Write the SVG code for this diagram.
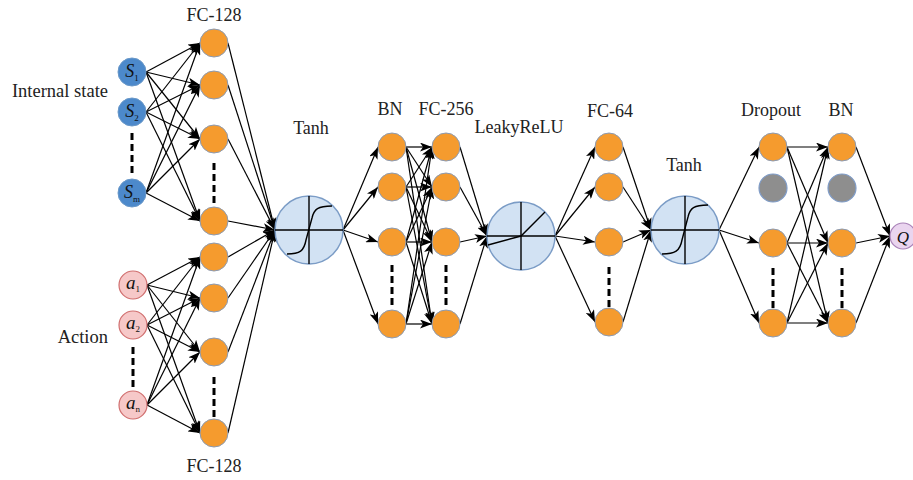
<svg xmlns="http://www.w3.org/2000/svg" width="913" height="480" viewBox="0 0 913 480">
<defs>
<marker id="ah" markerUnits="userSpaceOnUse" markerWidth="12" markerHeight="9" refX="12" refY="4.5" orient="auto">
<path d="M0,0 L12,4.5 L0,9 L3,4.5 z" fill="#000"/>
</marker>
<style>
.c line{stroke:#000;stroke-width:1.2;marker-end:url(#ah)}
.o{fill:#f59b2e;stroke:#8a9bb5;stroke-width:1}
.g{fill:#8e8e8e;stroke:#7f9cc8;stroke-width:1.2}
.b{fill:#4c89cb;stroke:#6a98c8;stroke-width:1}
.p{fill:#f6c8c8;stroke:#d06f6f;stroke-width:1.2}
.act{fill:#d2e2f3;stroke:#7b9cc6;stroke-width:1.5}
.ax{stroke:#000;stroke-width:1.4;fill:none}
.q{fill:#ead5ef;stroke:#a982b8;stroke-width:1.2}
.d{stroke:#000;stroke-width:3;stroke-dasharray:7 4}
text{font-family:"Liberation Serif","Times New Roman",serif;fill:#222}
.lb{font-size:18px;text-anchor:middle}
.nt{font-size:17px;text-anchor:middle;fill:#111}
</style>
</defs>
<rect width="913" height="480" fill="#fff"/>

<g id="connectors" class="c">
<line x1="146" y1="72" x2="200" y2="43"/><line x1="146" y1="72" x2="200" y2="85"/><line x1="146" y1="72" x2="200" y2="139"/><line x1="146" y1="72" x2="200" y2="221"/>
<line x1="146" y1="112" x2="200" y2="43"/><line x1="146" y1="112" x2="200" y2="85"/><line x1="146" y1="112" x2="200" y2="139"/><line x1="146" y1="112" x2="200" y2="221"/>
<line x1="146" y1="193" x2="200" y2="43"/><line x1="146" y1="193" x2="200" y2="85"/><line x1="146" y1="193" x2="200" y2="139"/><line x1="146" y1="193" x2="200" y2="221"/>
<line x1="147" y1="285" x2="200" y2="257"/><line x1="147" y1="285" x2="200" y2="298"/><line x1="147" y1="285" x2="200" y2="352"/><line x1="147" y1="285" x2="200" y2="433"/>
<line x1="147" y1="325" x2="200" y2="257"/><line x1="147" y1="325" x2="200" y2="298"/><line x1="147" y1="325" x2="200" y2="352"/><line x1="147" y1="325" x2="200" y2="433"/>
<line x1="147" y1="405" x2="200" y2="257"/><line x1="147" y1="405" x2="200" y2="298"/><line x1="147" y1="405" x2="200" y2="352"/><line x1="147" y1="405" x2="200" y2="433"/>
<line x1="228" y1="43" x2="275" y2="230"/><line x1="228" y1="85" x2="275" y2="230"/><line x1="228" y1="139" x2="275" y2="230"/><line x1="228" y1="221" x2="275" y2="230"/>
<line x1="228" y1="257" x2="275" y2="230"/><line x1="228" y1="298" x2="275" y2="230"/><line x1="228" y1="352" x2="275" y2="230"/><line x1="228" y1="433" x2="275" y2="230"/>
<line x1="343" y1="230" x2="378" y2="147"/><line x1="343" y1="230" x2="378" y2="187"/><line x1="343" y1="230" x2="378" y2="242"/><line x1="343" y1="230" x2="378" y2="324"/>
<line x1="406" y1="147" x2="432" y2="147"/><line x1="406" y1="147" x2="432" y2="187"/><line x1="406" y1="147" x2="432" y2="242"/><line x1="406" y1="147" x2="432" y2="324"/>
<line x1="406" y1="187" x2="432" y2="147"/><line x1="406" y1="187" x2="432" y2="187"/><line x1="406" y1="187" x2="432" y2="242"/><line x1="406" y1="187" x2="432" y2="324"/>
<line x1="406" y1="242" x2="432" y2="147"/><line x1="406" y1="242" x2="432" y2="187"/><line x1="406" y1="242" x2="432" y2="242"/><line x1="406" y1="242" x2="432" y2="324"/>
<line x1="406" y1="324" x2="432" y2="147"/><line x1="406" y1="324" x2="432" y2="187"/><line x1="406" y1="324" x2="432" y2="242"/><line x1="406" y1="324" x2="432" y2="324"/>
<line x1="460" y1="147" x2="487" y2="236"/><line x1="460" y1="187" x2="487" y2="236"/><line x1="460" y1="242" x2="487" y2="236"/><line x1="460" y1="324" x2="487" y2="236"/>
<line x1="555" y1="236" x2="595" y2="147"/><line x1="555" y1="236" x2="595" y2="187"/><line x1="555" y1="236" x2="595" y2="242"/><line x1="555" y1="236" x2="595" y2="322"/>
<line x1="623" y1="147" x2="651" y2="230"/><line x1="623" y1="187" x2="651" y2="230"/><line x1="623" y1="242" x2="651" y2="230"/><line x1="623" y1="322" x2="651" y2="230"/>
<line x1="719" y1="230" x2="759" y2="147"/><line x1="719" y1="230" x2="759" y2="243"/><line x1="719" y1="230" x2="759" y2="323"/>
<line x1="787" y1="147" x2="828" y2="147"/><line x1="787" y1="147" x2="828" y2="243"/><line x1="787" y1="147" x2="828" y2="323"/>
<line x1="787" y1="243" x2="828" y2="147"/><line x1="787" y1="243" x2="828" y2="243"/><line x1="787" y1="243" x2="828" y2="323"/>
<line x1="787" y1="323" x2="828" y2="147"/><line x1="787" y1="323" x2="828" y2="243"/><line x1="787" y1="323" x2="828" y2="323"/>
<line x1="856" y1="147" x2="890" y2="236"/><line x1="856" y1="243" x2="890" y2="236"/><line x1="856" y1="323" x2="890" y2="236"/>
</g>

<g id="dots">
<line class="d" x1="132" y1="133" x2="132" y2="173"/>
<line class="d" x1="214" y1="163" x2="214" y2="203"/>
<line class="d" x1="133" y1="347" x2="133" y2="387"/>
<line class="d" x1="214" y1="377" x2="214" y2="417"/>
<line class="d" x1="392" y1="265" x2="392" y2="307"/>
<line class="d" x1="446" y1="265" x2="446" y2="307"/>
<line class="d" x1="609" y1="267" x2="609" y2="307"/>
<line class="d" x1="773" y1="268" x2="773" y2="310"/>
<line class="d" x1="842" y1="268" x2="842" y2="310"/>
</g>

<g id="s1"><circle class="b" cx="132" cy="72" r="14"/><text class="nt" x="132" y="77"><tspan font-style="italic" font-size="18">S</tspan><tspan font-size="9" dy="3.5">1</tspan></text></g>
<g id="s2"><circle class="b" cx="132" cy="112" r="14"/><text class="nt" x="132" y="117"><tspan font-style="italic" font-size="18">S</tspan><tspan font-size="9" dy="3.5">2</tspan></text></g>
<g id="sm"><circle class="b" cx="132" cy="193" r="14"/><text class="nt" x="132" y="198"><tspan font-style="italic" font-size="18">S</tspan><tspan font-size="9" dy="3.5">m</tspan></text></g>
<g id="a1"><circle class="p" cx="133" cy="285" r="14"/><text class="nt" x="133" y="288.5"><tspan font-style="italic" font-size="19">a</tspan><tspan font-size="9" dy="3.5">1</tspan></text></g>
<g id="a2"><circle class="p" cx="133" cy="325" r="14"/><text class="nt" x="133" y="328.5"><tspan font-style="italic" font-size="19">a</tspan><tspan font-size="9" dy="3.5">2</tspan></text></g>
<g id="an"><circle class="p" cx="133" cy="405" r="14"/><text class="nt" x="133" y="408.5"><tspan font-style="italic" font-size="19">a</tspan><tspan font-size="9" dy="3.5">n</tspan></text></g>

<g id="fc128a-1"><circle class="o" cx="214" cy="43" r="14"/></g>
<g id="fc128a-2"><circle class="o" cx="214" cy="85" r="14"/></g>
<g id="fc128a-3"><circle class="o" cx="214" cy="139" r="14"/></g>
<g id="fc128a-4"><circle class="o" cx="214" cy="221" r="14"/></g>
<g id="fc128b-1"><circle class="o" cx="214" cy="257" r="14"/></g>
<g id="fc128b-2"><circle class="o" cx="214" cy="298" r="14"/></g>
<g id="fc128b-3"><circle class="o" cx="214" cy="352" r="14"/></g>
<g id="fc128b-4"><circle class="o" cx="214" cy="433" r="14"/></g>

<g id="tanh1"><circle class="act" cx="309" cy="230" r="34"/>
<line class="ax" x1="309" y1="196" x2="309" y2="264"/><line class="ax" x1="275" y1="230" x2="343" y2="230"/>
<path class="ax" d="M287,254 C300,254 304,251 306,240 L312,218 C314,209 318,206 332,206"/></g>

<g id="bn1-1"><circle class="o" cx="392" cy="147" r="14"/></g>
<g id="bn1-2"><circle class="o" cx="392" cy="187" r="14"/></g>
<g id="bn1-3"><circle class="o" cx="392" cy="242" r="14"/></g>
<g id="bn1-4"><circle class="o" cx="392" cy="324" r="14"/></g>
<g id="fc256-1"><circle class="o" cx="446" cy="147" r="14"/></g>
<g id="fc256-2"><circle class="o" cx="446" cy="187" r="14"/></g>
<g id="fc256-3"><circle class="o" cx="446" cy="242" r="14"/></g>
<g id="fc256-4"><circle class="o" cx="446" cy="324" r="14"/></g>

<g id="leaky"><circle class="act" cx="521" cy="236" r="34"/>
<line class="ax" x1="521" y1="202" x2="521" y2="270"/><line class="ax" x1="487" y1="236" x2="555" y2="236"/>
<path class="ax" d="M488,245 L521,236 L545,212"/></g>

<g id="fc64-1"><circle class="o" cx="609" cy="147" r="14"/></g>
<g id="fc64-2"><circle class="o" cx="609" cy="187" r="14"/></g>
<g id="fc64-3"><circle class="o" cx="609" cy="242" r="14"/></g>
<g id="fc64-4"><circle class="o" cx="609" cy="322" r="14"/></g>

<g id="tanh2"><circle class="act" cx="685" cy="230" r="34"/>
<line class="ax" x1="685" y1="196" x2="685" y2="264"/><line class="ax" x1="651" y1="230" x2="719" y2="230"/>
<path class="ax" d="M662,254 C675,254 680,251 682,240 L688,217 C690,208 694,205 708,205"/></g>

<g id="drop-1"><circle class="o" cx="773" cy="147" r="14"/></g>
<g id="drop-2"><circle class="g" cx="773" cy="188" r="14"/></g>
<g id="drop-3"><circle class="o" cx="773" cy="243" r="14"/></g>
<g id="drop-4"><circle class="o" cx="773" cy="323" r="14"/></g>
<g id="bn2-1"><circle class="o" cx="842" cy="147" r="14"/></g>
<g id="bn2-2"><circle class="g" cx="842" cy="188" r="14"/></g>
<g id="bn2-3"><circle class="o" cx="842" cy="243" r="14"/></g>
<g id="bn2-4"><circle class="o" cx="842" cy="323" r="14"/></g>

<g id="q"><circle class="q" cx="903" cy="236" r="13"/><text class="nt" x="903" y="242.5" font-size="18" font-style="italic">Q</text></g>

<g id="labels">
<text class="lb" x="214" y="21">FC-128</text>
<text class="lb" x="214" y="472">FC-128</text>
<text x="108" y="97" font-size="18.5" text-anchor="end">Internal state</text>
<text x="108" y="343" font-size="18.5" text-anchor="end">Action</text>
<text class="lb" x="311" y="134">Tanh</text>
<text class="lb" x="390" y="115">BN</text>
<text class="lb" x="446" y="115">FC-256</text>
<text class="lb" x="519" y="133">LeakyReLU</text>
<text class="lb" x="610" y="117">FC-64</text>
<text class="lb" x="684" y="171">Tanh</text>
<text class="lb" x="771" y="116">Dropout</text>
<text class="lb" x="841" y="116">BN</text>
</g>
</svg>
